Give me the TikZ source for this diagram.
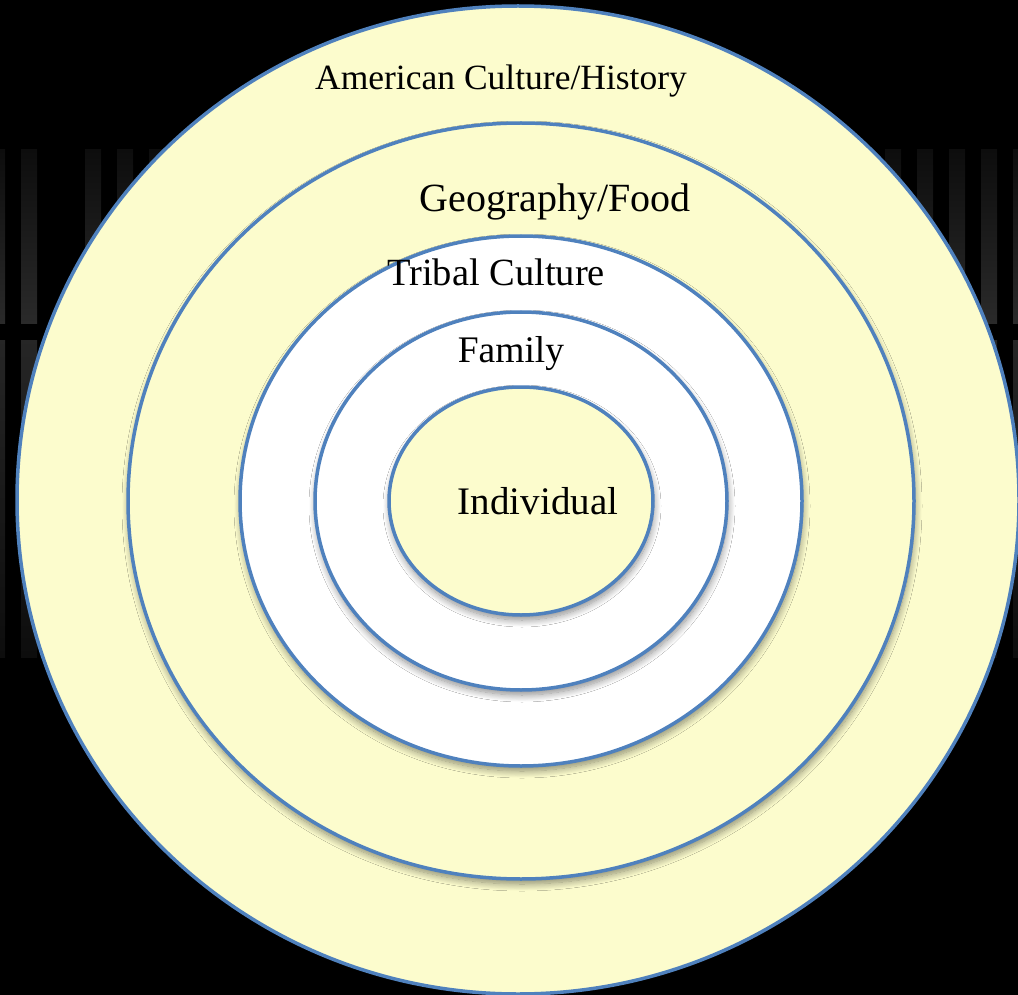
\documentclass[tikz,border=0pt]{standalone}
\usepackage{fontspec}
\setmainfont{Liberation Serif}
\usetikzlibrary{shapes.geometric,shadows.blur}
\definecolor{ringfill}{HTML}{FCFCCD}
\definecolor{ringline}{HTML}{4F81BD}
\definecolor{stripedark}{HTML}{0D0D0D}
\definecolor{stripelight}{HTML}{2A2A2A}
\begin{document}
\begin{tikzpicture}[x=1pt,y=-1pt,
  ring/.style={ellipse, draw=ringline, line width=3.5pt, inner sep=0pt, outer sep=0pt},
  shadowed/.style={blur shadow={shadow xshift=1pt, shadow yshift=-5pt, shadow scale=1, shadow blur radius=7pt, shadow blur steps=12, shadow opacity=45}},
  yellowring/.style={ring, fill=ringfill},
  whitering/.style={ring, fill=white},
  label/.style={anchor=base, inner sep=0pt, text=black}]
\fill[black] (0,0) rectangle (1018,995);
\useasboundingbox (0,0) rectangle (1018,995);
% background stripes
\foreach \x in {-11,21,85,117,...,1013} {
  \shade[top color=stripedark, bottom color=stripelight] (\x,150) rectangle ++(16,173);
  \shade[top color=stripelight!90!black, bottom color=stripedark] (\x,340) rectangle ++(16,317);
}
% rings
\node[yellowring, minimum width=1002pt, minimum height=988pt] (american) at (518,500) {};
\node[yellowring, shadowed, minimum width=786pt, minimum height=756pt] (geography) at (521,501) {};
\node[whitering, shadowed, minimum width=562pt, minimum height=530pt] (tribal) at (521,501) {};
\node[whitering, shadowed, minimum width=412pt, minimum height=378pt] (family) at (521,501) {};
\node[yellowring, shadowed, minimum width=264pt, minimum height=228pt] (individual) at (521,501) {};
% labels
\node[label, font=\fontsize{35.5}{38}\selectfont] (tamerican) at (501,90) {American Culture/History};
\node[label, font=\fontsize{40}{44}\selectfont] (tgeography) at (555,212) {Geography/Food};
\node[label, font=\fontsize{38.5}{42}\selectfont] (ttribal) at (496,286) {Tribal Culture};
\node[label, font=\fontsize{37.5}{40}\selectfont] (tfamily) at (511,362) {Family};
\node[label, font=\fontsize{39}{42}\selectfont] (tindividual) at (538,514) {Individual};
\end{tikzpicture}
\end{document}
